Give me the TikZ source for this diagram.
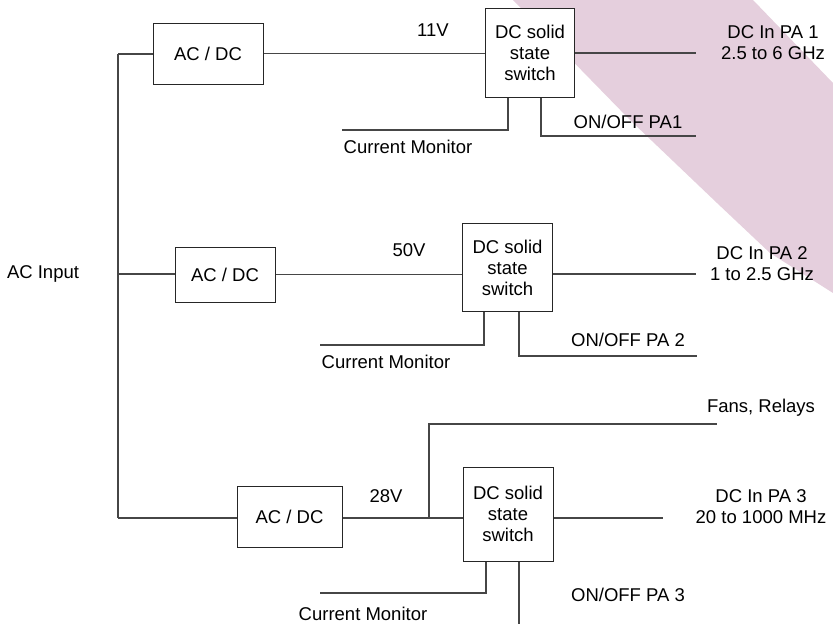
\documentclass[tikz,border=0pt]{standalone}
\usepackage{fontspec}
\setmainfont{Liberation Sans}
\definecolor{pinkband}{RGB}{229,207,221}
\definecolor{wire}{RGB}{70,70,70}
\begin{document}
\begin{tikzpicture}[x=1pt,y=-1pt,
  every node/.style={font=\fontsize{18.5}{21}\selectfont, text=black, inner sep=0pt},
  acbox/.style={draw=black!85, line width=1pt, fill=white, minimum width=#1, minimum height=61, align=center},
  swbox/.style={draw=black!85, line width=1pt, fill=white, minimum width=89, minimum height=89, align=center},
  lbl/.style={align=center},
  wireline/.style={draw=wire, line width=1.2pt}]
\useasboundingbox (0,0) rectangle (833,624);
% pink band
\fill[pinkband] (513,0) -- (630,120) -- (717,203) -- (770,253) -- (833,293) -- (833,83) -- (753,0) -- cycle;

% left bus and input
\node[lbl] (acin) at (43,274) {AC Input};
\coordinate (bt) at (118,54);
\coordinate (bm) at (118,274);
\coordinate (bb) at (118,518);

% row 1
\node[acbox=110] (ac1) at (208,53.5) {AC / DC};
\node[swbox] (sw1) at (530,52.5) {DC solid\\state\\switch};
\node[lbl] (v1) at (433,30) {11V};
\node[lbl] (pa1) at (773,42.5) {DC In PA 1\\2.5 to 6 GHz};
\coordinate (o1) at (696,53);
\coordinate (cm1) at (342,130);
\coordinate (cm1c) at (508,130);
\coordinate (on1) at (696,136);
\coordinate (on1c) at (541,136);
\node[lbl] (cmt1) at (408,147) {Current Monitor};
\node[lbl] (ont1) at (628,122) {ON/OFF PA1};

% row 2
\node[acbox=100, minimum height=55] (ac2) at (225,274.5) {AC / DC};
\node[swbox, minimum width=90, minimum height=88] (sw2) at (507.5,267.5) {DC solid\\state\\switch};
\node[lbl] (v2) at (409,250) {50V};
\node[lbl] (pa2) at (762,263.5) {DC In PA 2\\1 to 2.5 GHz};
\coordinate (o2) at (696,274);
\coordinate (cm2) at (320,345);
\coordinate (cm2c) at (484,345);
\coordinate (on2) at (697,356);
\coordinate (on2c) at (519,356);
\node[lbl] (cmt2) at (386,362) {Current Monitor};
\node[lbl] (ont2) at (628,340) {ON/OFF PA 2};

% row 3
\node[acbox=105] (ac3) at (289.5,516.5) {AC / DC};
\node[swbox, minimum width=90, minimum height=94] (sw3) at (508,514) {DC solid\\state\\switch};
\node[lbl] (v3) at (386,496) {28V};
\node[lbl] (pa3) at (761,507) {DC In PA 3\\20 to 1000 MHz};
\node[lbl] (fans) at (761,408) {Fans, Relays};
\coordinate (j3) at (429,518);
\coordinate (f3) at (717,424);
\coordinate (o3) at (663,518);
\coordinate (cm3) at (320,593);
\coordinate (cm3c) at (486,593);
\coordinate (on3) at (519,624);
\node[lbl] (cmt3) at (363,614) {Current Monitor};
\node[lbl] (ont3) at (628,595) {ON/OFF PA 3};

% wires
\draw[wireline] (bt) -- (bb);
\draw[wireline] (bt) -- (bt -| ac1.west);
\draw[wireline] (bm) -- (bm -| ac2.west);
\draw[wireline] (bb) -- (bb -| ac3.west);

\draw[wireline] (ac1.east) -- (ac1.east -| sw1.west);
\draw[wireline] (o1 -| sw1.east) -- (o1);
\draw[wireline] (cm1c |- sw1.south) -- (cm1c) -- (cm1);
\draw[wireline] (on1c |- sw1.south) -- (on1c) -- (on1);

\draw[wireline] (ac2.east) -- (ac2.east -| sw2.west);
\draw[wireline] (o2 -| sw2.east) -- (o2);
\draw[wireline] (cm2c |- sw2.south) -- (cm2c) -- (cm2);
\draw[wireline] (on2c |- sw2.south) -- (on2c) -- (on2);

\draw[wireline] (j3 -| ac3.east) -- (j3 -| sw3.west);
\draw[wireline] (j3) |- (f3);
\draw[wireline] (o3 -| sw3.east) -- (o3);
\draw[wireline] (cm3c |- sw3.south) -- (cm3c) -- (cm3);
\draw[wireline] (on3 |- sw3.south) -- (on3);
\end{tikzpicture}
\end{document}
